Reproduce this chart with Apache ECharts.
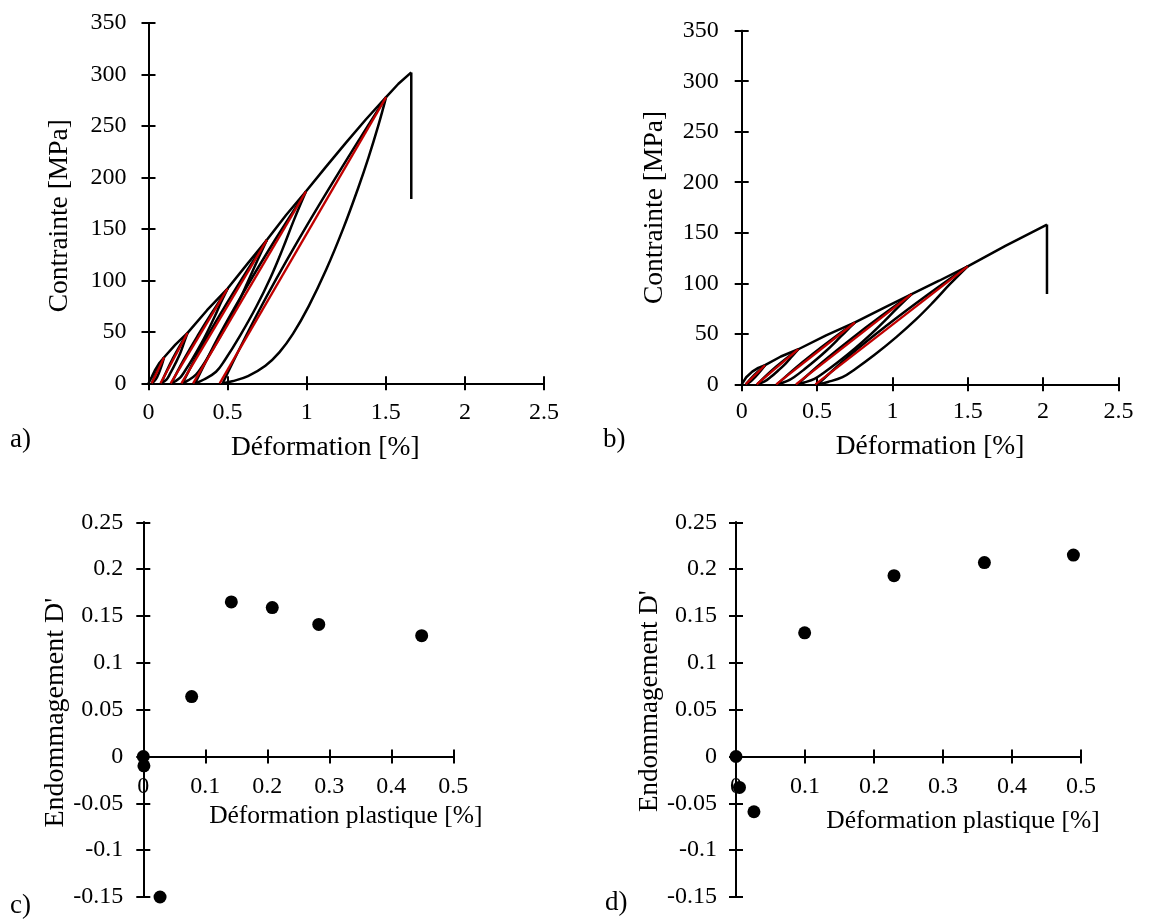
<!DOCTYPE html>
<html>
<head>
<meta charset="utf-8">
<script src="https://cdn.jsdelivr.net/npm/echarts@6/dist/echarts.min.js"></script>
<style>
html,body{margin:0;padding:0;background:#fff;}
#c{width:1163px;height:921px;}
</style>
</head>
<body>
<div id="c"></div>
<script>
// ---------- Panel a) : stress-strain (cyclic) ----------
const aEnvelope = [[0,0],[0.02,6],[0.04,12.5],[0.07,20],[0.099,25.3],[0.17,37.5],[0.247,49],[0.37,71],[0.5,92],[0.625,116],[0.749,139.4],[0.87,163.5],[0.996,186.5],[1.12,210],[1.25,234],[1.375,256.5],[1.502,278],[1.58,291],[1.661,302]];
const aRupture = [[1.661,302],[1.661,179]];
const aUnload1 = [[0.099,25.3],[0.084,17.7],[0.066,10.1],[0.046,3.8],[0.022,0]];
const aUnload2 = [[0.247,49],[0.224,39.2],[0.201,29.4],[0.171,19.6],[0.138,9.8],[0.115,3.9],[0.08,0]];
const aUnload3 = [[0.5,92],[0.457,78.2],[0.417,64.4],[0.374,50.6],[0.327,36.8],[0.275,23],[0.226,11],[0.2,5.5],[0.167,1.8],[0.145,0]];
const aUnload4 = [[0.749,139.4],[0.686,118.5],[0.625,97.6],[0.562,76.7],[0.491,55.8],[0.413,34.9],[0.34,16.7],[0.30,8.4],[0.25,2.8],[0.215,0]];
const aUnload5 = [[0.996,186.5],[0.919,158.5],[0.848,130.6],[0.771,102.6],[0.682,74.6],[0.58,46.6],[0.482,22.4],[0.427,11.2],[0.35,3.7],[0.295,0]];
const aUnload6 = [[1.502,278],[1.452,250],[1.392,220],[1.326,190],[1.23,150],[1.122,110],[1.013,75],[0.913,48],[0.827,30],[0.739,17],[0.629,7],[0.529,2],[0.469,0]];
const aReload1 = [[0.022,0],[0.055,12.65],[0.099,25.3]];
const aReload2 = [[0.08,0],[0.155,24.5],[0.247,49]];
const aReload3 = [[0.145,0],[0.223,23],[0.31,46],[0.403,69],[0.5,92]];
const aReload4 = [[0.215,0],[0.333,34.9],[0.4635,69.7],[0.603,104.6],[0.749,139.4]];
const aReload5 = [[0.295,0],[0.447,46.6],[0.619,93.25],[0.8025,139.9],[0.996,186.5]];
const aReload6 = [[0.469,0],[0.695,69.5],[0.947,139],[1.218,208.5],[1.502,278]];
const aRedStart = [0.02,0.076,0.14,0.208,0.282,0.45];
const aPeakX = [0.099,0.247,0.5,0.749,0.996,1.502];
const aPeakY = [25.3,49,92,139.4,186.5,278];

// ---------- Panel b) ----------
const bEnvelope = [[0,0],[0.03,7],[0.07,12.5],[0.11,16.3],[0.155,18.9],[0.26,27.5],[0.376,34.7],[0.56,48.5],[0.752,61.2],[0.94,75.5],[1.128,89.3],[1.31,102.5],[1.5,116.8],[1.75,137],[2.026,158.1]];
const bRupture = [[2.026,158.1],[2.026,89.3]];
const bUnload1 = [[0.155,18.9],[0.125,13.2],[0.092,7.6],[0.059,2.8],[0.028,0]];
const bUnload2 = [[0.376,34.7],[0.335,27.8],[0.293,20.8],[0.244,13.9],[0.19,6.9],[0.152,2.8],[0.103,0]];
const bUnload3 = [[0.752,61.2],[0.689,52],[0.628,42.8],[0.565,33.7],[0.495,24.5],[0.42,15.3],[0.349,7.3],[0.30,3.1],[0.235,0]];
const bUnload4 = [[1.128,89.3],[1.035,75.9],[0.947,62.5],[0.854,49.1],[0.753,35.7],[0.642,22.3],[0.538,10.7],[0.483,5.4],[0.415,1.8],[0.37,0]];
const bUnload5 = [[1.5,116.8],[1.383,99.3],[1.274,81.8],[1.157,64.2],[1.026,46.7],[0.882,29.2],[0.743,14],[0.669,7],[0.572,2.3],[0.505,0]];
const bReload1 = [[0.028,0],[0.0855,9.45],[0.155,18.9]];
const bReload2 = [[0.103,0],[0.228,17.35],[0.376,34.7]];
const bReload3 = [[0.235,0],[0.35,15.3],[0.4755,30.6],[0.61,45.9],[0.752,61.2]];
const bReload4 = [[0.37,0],[0.539,22.3],[0.724,44.65],[0.921,67],[1.128,89.3]];
const bReload5 = [[0.505,0],[0.722,29.2],[0.9645,58.4],[1.225,87.6],[1.5,116.8]];
const bRedStart = [0.026,0.0995,0.229,0.36,0.489];
const bPeakX = [0.155,0.376,0.752,1.128,1.5];
const bPeakY = [18.9,34.7,61.2,89.3,116.8];

// ---------- Panels c) d) : damage ----------
const cX = [0,0.001,0.027,0.078,0.142,0.208,0.283,0.449];
const cY = [0,-0.010,-0.150,0.064,0.165,0.159,0.141,0.129];
const dX = [0,0.005,0.026,0.0995,0.229,0.36,0.489];
const dY = [0,-0.033,-0.059,0.132,0.193,0.207,0.215];

// ---------- Axis texts ----------
const strainTitle = 'Déformation [%]';
const stressTitle = 'Contrainte [MPa]';
const plasticTitle = 'Déformation plastique [%]';
const damageTitle = "Endommagement D'";
const panelLabels = ['a)','b)','c)','d)'];

const FONT = '"Liberation Serif", "Times New Roman", serif';
const BLACK = '#000000';
const RED = '#c00000';

const grids = [
  {left:148.5, top:23, width:395.5, height:360.3, outerBoundsMode:'none', containLabel:false},
  {left:741.7, top:30.7, width:376.7, height:353.6, outerBoundsMode:'none', containLabel:false},
  {left:143.3, top:522.3, width:310, height:374.7, outerBoundsMode:'none', containLabel:false},
  {left:736, top:522.3, width:345, height:374.7, outerBoundsMode:'none', containLabel:false}
];

// x-axis crosses y = 0 : for c) and d) it is lifted from the grid bottom
// by the pixel distance between y = min and y = 0 (0.15 of a 0.40 range).
function zeroLift(gi){
  const g = grids[gi];
  const yMin = gi >= 2 ? -0.15 : 0, yMax = gi >= 2 ? 0.25 : 350;
  return -g.height * (0 - yMin) / (yMax - yMin);
}

function xPair(gi, min, max, interval, opts){
  const base = {
    type:'value', gridIndex:gi, min:min, max:max, interval:interval, position:'bottom',
    offset:zeroLift(gi), splitLine:{show:false},
    axisLine:{show:true, onZero:false, lineStyle:{color:BLACK, width:2}}
  };
  const main = Object.assign({}, base, {
    axisTick:{show:true, inside:false, length:7, lineStyle:{color:BLACK, width:2}},
    axisLabel:{show:true, margin:opts.labelMargin, color:BLACK, fontFamily:FONT, fontSize:24},
    name:opts.name, nameLocation:'middle', nameGap:opts.nameGap,
    nameTextStyle:{color:BLACK, fontFamily:FONT, fontSize:opts.nameSize, padding:opts.namePad}
  });
  const inner = Object.assign({}, base, {
    axisTick:{show:true, inside:true, length:7, lineStyle:{color:BLACK, width:2}},
    axisLabel:{show:false}
  });
  return [main, inner];
}
function yPair(gi, min, max, interval, opts){
  const base = {
    type:'value', gridIndex:gi, min:min, max:max, interval:interval, position:'left',
    splitLine:{show:false},
    axisLine:{show:true, onZero:false, lineStyle:{color:BLACK, width:2}}
  };
  const main = Object.assign({}, base, {
    axisTick:{show:true, inside:false, length:7, lineStyle:{color:BLACK, width:2}},
    axisLabel:{show:true, margin:opts.labelMargin, color:BLACK, fontFamily:FONT, fontSize:24},
    name:opts.name, nameLocation:'middle', nameGap:opts.nameGap,
    nameTextStyle:{color:BLACK, fontFamily:FONT, fontSize:opts.nameSize, padding:opts.namePad}
  });
  const inner = Object.assign({}, base, {
    axisTick:{show:true, inside:true, length:7, lineStyle:{color:BLACK, width:2}},
    axisLabel:{show:false}
  });
  return [main, inner];
}

const xAxes = [].concat(
  xPair(0, 0, 2.5, 0.5, {name:strainTitle, nameGap:50, labelMargin:17, nameSize:27.5, namePad:[0,42,0,0]}),
  xPair(1, 0, 2.5, 0.5, {name:strainTitle, nameGap:48, labelMargin:15, nameSize:27.5, namePad:[0,0,0,0]}),
  xPair(2, 0, 0.5, 0.1, {name:plasticTitle, nameGap:47, labelMargin:18, nameSize:25.5, namePad:[0,0,0,95]}),
  xPair(3, 0, 0.5, 0.1, {name:plasticTitle, nameGap:52, labelMargin:18, nameSize:25.5, namePad:[0,0,0,109]})
);
const yAxes = [].concat(
  yPair(0, 0, 350, 50, {name:stressTitle, nameGap:75, labelMargin:22, nameSize:27.5, namePad:[0,25,0,0]}),
  yPair(1, 0, 350, 50, {name:stressTitle, nameGap:73, labelMargin:23, nameSize:27.5, namePad:[0,0,0,0]}),
  yPair(2, -0.15, 0.25, 0.05, {name:damageTitle, nameGap:72, labelMargin:20, nameSize:28, namePad:[0,6,0,0]}),
  yPair(3, -0.15, 0.25, 0.05, {name:damageTitle, nameGap:69, labelMargin:19, nameSize:27, namePad:[0,0,0,17]})
);

function line(data, gi, color, width, smooth){
  return {
    type:'line', data:data, xAxisIndex:2*gi, yAxisIndex:2*gi,
    showSymbol:false, symbol:'none', smooth:smooth, clip:false,
    lineStyle:{color:color, width:width}, silent:true, z:color===RED?3:2
  };
}
const series = [];
// panel a
series.push(line(aEnvelope, 0, BLACK, 2.5, false));
series.push(line(aRupture, 0, BLACK, 2.5, false));
[aUnload1,aUnload2,aUnload3,aUnload4,aUnload5,aUnload6].forEach(d=>series.push(line(d,0,BLACK,2.5,0.4)));
[aReload1,aReload2,aReload3,aReload4,aReload5,aReload6].forEach(d=>series.push(line(d,0,BLACK,2.5,0.4)));
aRedStart.forEach((x0,i)=>series.push(line([[x0,0],[aPeakX[i],aPeakY[i]]],0,RED,2.3,false)));
// panel b
series.push(line(bEnvelope, 1, BLACK, 2.5, false));
series.push(line(bRupture, 1, BLACK, 2.5, false));
[bUnload1,bUnload2,bUnload3,bUnload4,bUnload5].forEach(d=>series.push(line(d,1,BLACK,2.5,0.4)));
[bReload1,bReload2,bReload3,bReload4,bReload5].forEach(d=>series.push(line(d,1,BLACK,2.5,0.4)));
bRedStart.forEach((x0,i)=>series.push(line([[x0,0],[bPeakX[i],bPeakY[i]]],1,RED,2.3,false)));
// panels c, d
series.push({type:'scatter', xAxisIndex:4, yAxisIndex:4, data:cX.map((x,i)=>[x,cY[i]]),
  symbol:'circle', symbolSize:13, itemStyle:{color:BLACK, opacity:1}, clip:false, z:4});
series.push({type:'scatter', xAxisIndex:6, yAxisIndex:6, data:dX.map((x,i)=>[x,dY[i]]),
  symbol:'circle', symbolSize:13, itemStyle:{color:BLACK, opacity:1}, clip:false, z:4});

const labelPos = [[10,426],[603,426],[10,892],[605,889]];
const titles = panelLabels.map((t,i)=>({
  text:t, left:labelPos[i][0], top:labelPos[i][1], padding:0,
  textStyle:{color:BLACK, fontFamily:FONT, fontSize:27, fontWeight:'normal'}
}));

const chart = echarts.init(document.getElementById('c'), null, {renderer:'canvas'});
chart.setOption({
  animation:false,
  backgroundColor:'#ffffff',
  title:titles,
  grid:grids,
  xAxis:xAxes,
  yAxis:yAxes,
  series:series
});
</script>
</body>
</html>
